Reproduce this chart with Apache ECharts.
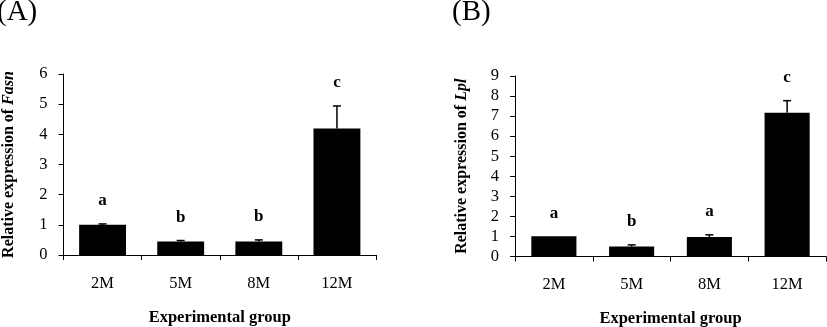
<!DOCTYPE html>
<html><head><meta charset="utf-8">
<script src="https://cdn.jsdelivr.net/npm/echarts@6/dist/echarts.min.js"></script>
<style>html,body{margin:0;padding:0;background:#fff}#c{width:827px;height:327px}</style>
</head><body><div id="c"></div>
<script>
const categories = ['2M', '5M', '8M', '12M'];
const fasnMean = [1.0, 0.45, 0.45, 4.19];
const fasnErr = [0.03, 0.03, 0.05, 0.75];
const fasnLetters = ['a', 'b', 'b', 'c'];
const lplMean = [1.01, 0.5, 0.97, 7.17];
const lplErr = [0.0, 0.08, 0.11, 0.6];
const lplLetters = ['a', 'b', 'a', 'c'];
const fasnTicks = [0, 6, 1];
const lplTicks = [0, 9, 1];

const FONT = '"Liberation Serif", "Times New Roman", serif';
const chart = echarts.init(document.getElementById('c'));

function errSeries(idx, mean, err, letters) {
  return {
    type: 'custom', xAxisIndex: idx, yAxisIndex: idx, z: 5,
    data: mean.map((m, i) => [i, m, m + err[i], letters[i]]),
    renderItem: function (params, api) {
      const base = api.coord([api.value(0), api.value(1)]);
      const top = api.coord([api.value(0), api.value(2)]);
      const children = [];
      if (top[1] < base[1] - 0.5) {
        children.push({ type: 'line', shape: { x1: base[0], y1: base[1], x2: top[0], y2: top[1] }, style: { stroke: '#000', lineWidth: 1.5 } });
        children.push({ type: 'line', shape: { x1: top[0] - 4, y1: top[1], x2: top[0] + 4, y2: top[1] }, style: { stroke: '#000', lineWidth: 1.5 } });
      }
      children.push({ type: 'text', x: top[0], y: top[1] - 23, style: { text: api.value(3), fill: '#000', font: 'bold 17px ' + FONT, align: 'center', verticalAlign: 'middle' } });
      return { type: 'group', children: children };
    }
  };
}

function xAxisDef(idx) {
  return {
    type: 'category', gridIndex: idx, data: categories,
    name: 'Experimental group', nameLocation: 'middle', nameGap: 54,
    nameTextStyle: { fontFamily: FONT, fontWeight: 'bold', fontSize: 16.5, color: '#000' },
    axisLine: { lineStyle: { color: '#000', width: 1 } },
    axisTick: { show: true, length: 5, interval: 0, alignWithLabel: false, lineStyle: { color: '#000' } },
    axisLabel: { fontFamily: FONT, fontSize: 16.5, color: '#000', margin: 20 }
  };
}
function yAxisDef(idx, ticks, gene, gap) {
  return {
    type: 'value', gridIndex: idx, min: ticks[0], max: ticks[1], interval: ticks[2],
    name: '{b|Relative expression of }{i|' + gene + '}', nameLocation: 'middle', nameGap: gap, nameRotate: 90,
    nameTextStyle: { color: '#000', rich: {
      b: { fontFamily: FONT, fontWeight: 'bold', fontSize: 16, color: '#000' },
      i: { fontFamily: FONT, fontWeight: 'bold', fontStyle: 'italic', fontSize: 16, color: '#000' } } },
    axisLine: { show: true, lineStyle: { color: '#000', width: 1 } },
    axisTick: { show: true, length: 5, lineStyle: { color: '#000' } },
    splitLine: { show: false },
    axisLabel: { fontFamily: FONT, fontSize: 16.5, color: '#000', margin: 16 }
  };
}

chart.setOption({
  animation: false,
  title: [
    { text: '(A)', left: -8, top: -7, textStyle: { fontFamily: FONT, fontSize: 29, fontWeight: 'normal', color: '#000' } },
    { text: '(B)', left: 447, top: -7, textStyle: { fontFamily: FONT, fontSize: 29, fontWeight: 'normal', color: '#000' } }
  ],
  grid: [
    { left: 63.5, right: 451, top: 74, bottom: 72, outerBoundsMode: 'none', containLabel: false },
    { left: 515, right: 1, top: 76, bottom: 70.5, outerBoundsMode: 'none', containLabel: false }
  ],
  xAxis: [xAxisDef(0), xAxisDef(1)],
  yAxis: [yAxisDef(0, fasnTicks, 'Fasn', 47), yAxisDef(1, lplTicks, 'Lpl', 45)],
  series: [
    { type: 'bar', xAxisIndex: 0, yAxisIndex: 0, data: fasnMean, barWidth: '60%', itemStyle: { color: '#000' } },
    errSeries(0, fasnMean, fasnErr, fasnLetters),
    { type: 'bar', xAxisIndex: 1, yAxisIndex: 1, data: lplMean, barWidth: '58%', itemStyle: { color: '#000' } },
    errSeries(1, lplMean, lplErr, lplLetters)
  ]
});
</script></body></html>
